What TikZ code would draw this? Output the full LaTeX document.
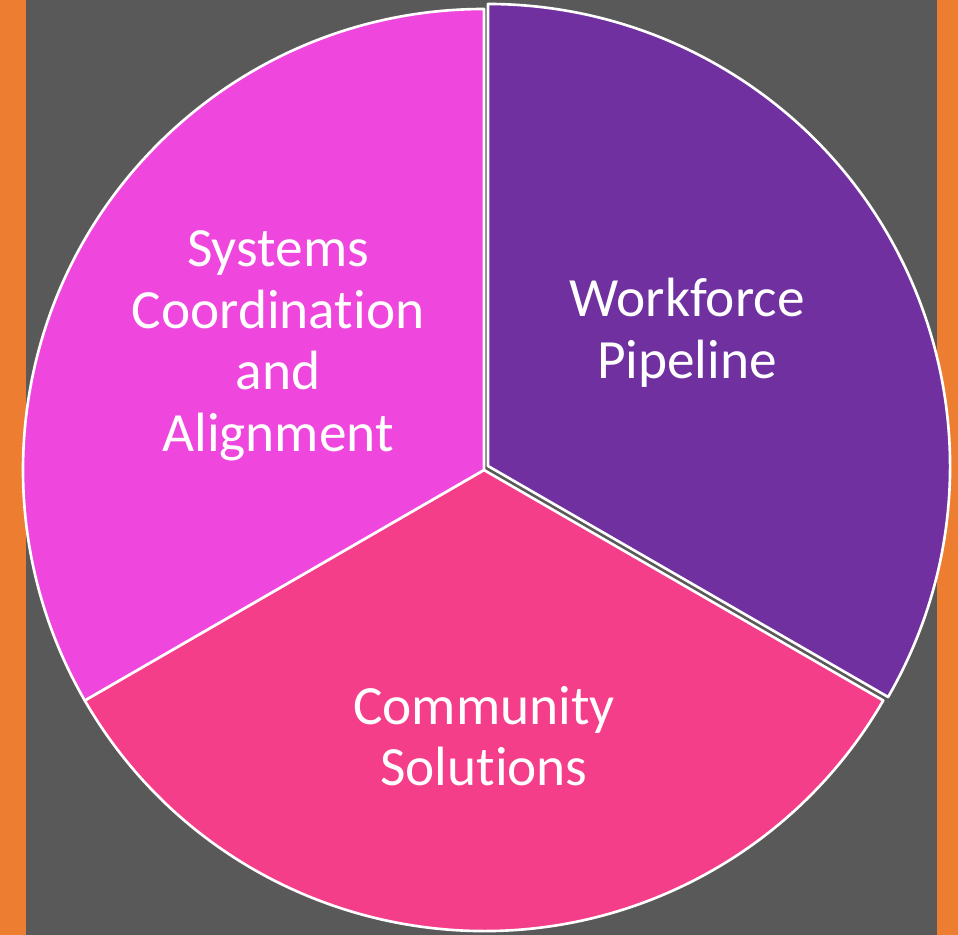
\documentclass[tikz,border=0pt]{standalone}
\usepackage{fontspec}
\setmainfont[Ligatures=NoCommon]{Carlito}
\definecolor{bgray}{RGB}{89,89,89}
\definecolor{sideorange}{RGB}{237,125,49}
\definecolor{wfpurple}{RGB}{112,48,160}
\definecolor{csmagenta}{RGB}{239,71,222}
\definecolor{cpink}{RGB}{245,62,137}
\begin{document}
\begin{tikzpicture}

\tikzstyle{slice}=[draw=white, line width=1.5pt, line join=round]
\tikzstyle{label}=[text=white, align=center, font=\fontsize{31.5}{35}\selectfont]

% background and side bars
\fill[bgray] (0,0) rectangle (19.16,18.70);
\fill[sideorange] (0,0) rectangle (0.52,18.70);
\fill[sideorange] (18.74,0) rectangle (19.16,18.70);
\useasboundingbox (0,0) rectangle (19.16,18.70);

\coordinate (O) at (9.68,9.30);
\coordinate (P) at (9.76,9.38);

% the three slices
\filldraw[slice, fill=cpink] (O) -- ++(210:9.22) arc[start angle=210, end angle=330, radius=9.22] -- cycle;
\filldraw[slice, fill=csmagenta] (O) -- ++(90:9.22) arc[start angle=90, end angle=210, radius=9.22] -- cycle;
\filldraw[slice, fill=wfpurple] (P) -- ++(-30:9.24) arc[start angle=-30, end angle=90, radius=9.24] -- cycle;

\node (W) [label] at (13.74,12.04) {Workforce\\Pipeline};
\node (S) [label] at (5.56,11.78) {Systems\\Coordination\\and\\Alignment};
\node (C) [label] at (9.68,3.98) {Community\\Solutions};

\end{tikzpicture}
\end{document}
